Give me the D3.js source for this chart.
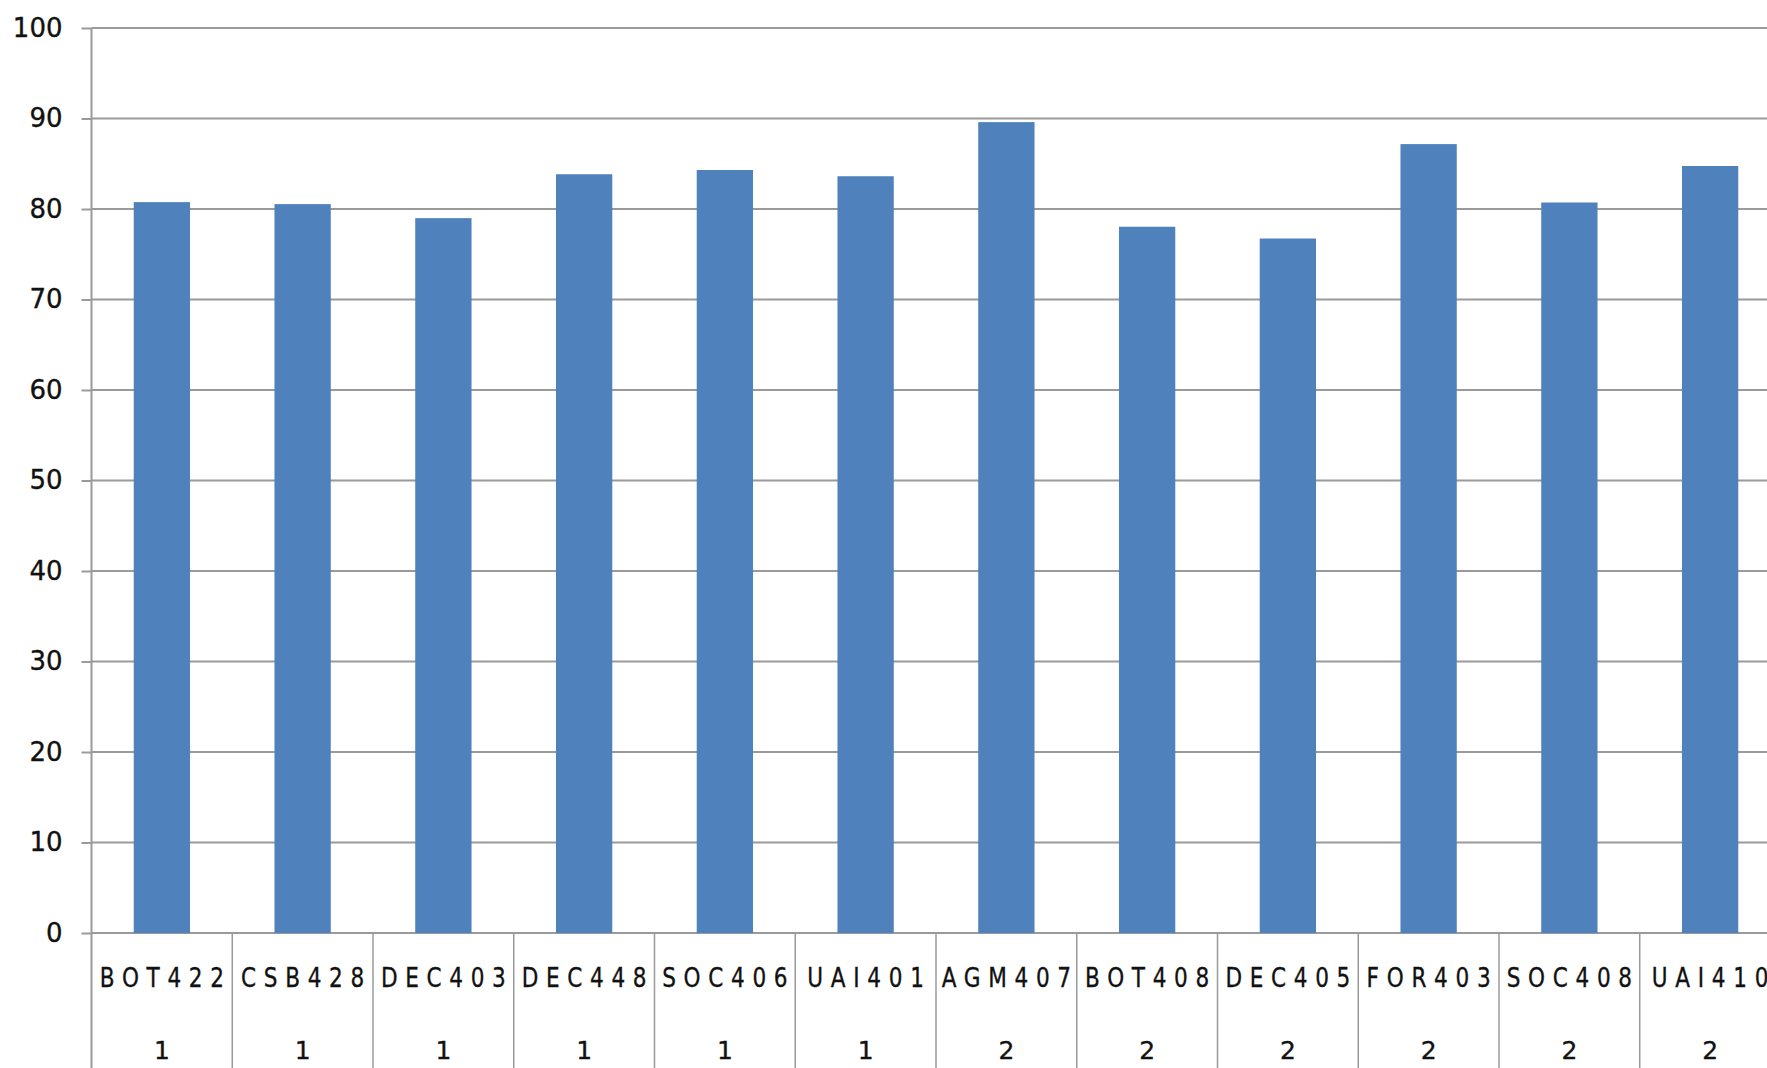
<!DOCTYPE html>
<html>
<head>
<meta charset="utf-8">
<script src="https://cdn.jsdelivr.net/npm/d3@7"></script>
<style>
  html, body { margin: 0; padding: 0; background: #ffffff; overflow: hidden; }
  svg { display: block; }
</style>
</head>
<body>
<script>
const categories = ["BOT422", "CSB428", "DEC403", "DEC448", "SOC406", "UAI401",
                    "AGM407", "BOT408", "DEC405", "FOR403", "SOC408", "UAI410"];
const groups = ["1", "1", "1", "1", "1", "1", "2", "2", "2", "2", "2", "2"];
const values = [80.76, 80.54, 78.99, 83.84, 84.31, 83.62, 89.6, 78.04, 76.74, 87.17, 80.72, 84.75];
const yTicks = [0, 10, 20, 30, 40, 50, 60, 70, 80, 90, 100];

const W = 1767, H = 1068;
const plotLeft = 91.5, plotTop = 28, plotBottom = 933;
const step = 140.75;
const plotRight = plotLeft + categories.length * step;

const svg = d3.select("body").append("svg").attr("width", W).attr("height", H);

const x = d3.scaleBand().domain(categories).range([plotLeft, plotRight])
  .paddingInner(0.6).paddingOuter(0.3);
const y = d3.scaleLinear().domain([0, 100]).range([plotBottom, plotTop]);

const gridColor = "#9a9a9a";
const font = "'DejaVu Sans', Verdana, sans-serif";

// gridlines
svg.append("g").selectAll("line").data(yTicks).join("line")
  .attr("x1", plotLeft).attr("x2", W)
  .attr("y1", d => y(d)).attr("y2", d => y(d))
  .attr("stroke", gridColor).attr("stroke-width", 2);

// y axis ticks + labels
const yAxis = d3.axisLeft(y).tickValues(yTicks).tickSize(10).tickPadding(19).tickFormat(d3.format("d"));
const gy = svg.append("g").attr("transform", `translate(${plotLeft},0)`).call(yAxis);
gy.select(".domain").remove();
gy.selectAll(".tick line").attr("stroke", gridColor).attr("stroke-width", 2);
gy.selectAll(".tick text")
  .attr("fill", "#111").attr("stroke", "#111").attr("stroke-width", 0.35)
  .style("font-family", font)
  .style("font-size", "26px");

// bars
svg.append("g").selectAll("rect").data(values).join("rect")
  .attr("x", (d, i) => x(categories[i]))
  .attr("width", x.bandwidth())
  .attr("y", d => y(d))
  .attr("height", d => y(0) - y(d))
  .attr("fill", "#4F81BD");

// left axis line (full height)
svg.append("line")
  .attr("x1", plotLeft).attr("x2", plotLeft).attr("y1", plotTop).attr("y2", H)
  .attr("stroke", gridColor).attr("stroke-width", 2);

// category separators below zero line
const outer = x.paddingOuter() * x.step();
svg.append("g").selectAll("line").data(categories.slice(1)).join("line")
  .attr("x1", d => x(d) - outer).attr("x2", d => x(d) - outer)
  .attr("y1", plotBottom).attr("y2", H)
  .attr("stroke", gridColor).attr("stroke-width", 1.5);

// category labels (condensed, spaced)
const sx = 0.8, ls = 9.6;
svg.append("g").selectAll("text").data(categories).join("text")
  .attr("transform", d => `translate(${x(d) + x.bandwidth() / 2},978) scale(${sx},1)`)
  .attr("x", ls / 2)
  .attr("text-anchor", "middle")
  .attr("dominant-baseline", "central")
  .style("font-family", font)
  .style("font-size", "27px")
  .style("letter-spacing", ls + "px")
  .attr("fill", "#111").attr("stroke", "#111").attr("stroke-width", 0.35)
  .text(d => d);

// group labels
svg.append("g").selectAll("text").data(groups).join("text")
  .attr("x", (d, i) => x(categories[i]) + x.bandwidth() / 2)
  .attr("y", 1050)
  .attr("text-anchor", "middle")
  .attr("dominant-baseline", "central")
  .style("font-family", font)
  .style("font-size", "25px")
  .attr("fill", "#111").attr("stroke", "#111").attr("stroke-width", 0.35)
  .text(d => d);
</script>
</body>
</html>
